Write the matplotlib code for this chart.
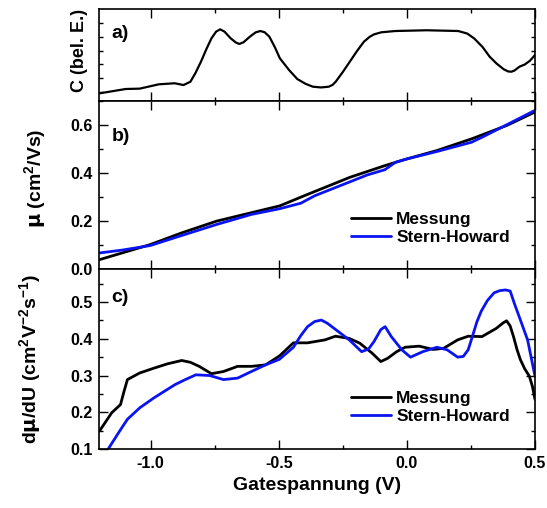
import numpy as np
import matplotlib
matplotlib.use("Agg")
import matplotlib.pyplot as plt
from matplotlib.ticker import MultipleLocator, FixedLocator

plt.rcParams['font.family'] = ['Liberation Sans', 'DejaVu Sans']
plt.rcParams['font.weight'] = 'bold'
plt.rcParams['axes.labelweight'] = 'bold'
plt.rcParams['mathtext.fontset'] = 'custom'
plt.rcParams['mathtext.rm'] = 'DejaVu Sans'
plt.rcParams['mathtext.bf'] = 'Liberation Sans:bold'
plt.rcParams['mathtext.default'] = 'bf'

# a) capacitance (arbitrary units)
u_c = [-1.2, -1.098, -1.043, -0.968, -0.906, -0.872, -0.845, -0.825, -0.804,
       -0.783, -0.763, -0.745, -0.729, -0.712, -0.688, -0.668, -0.654, -0.638,
       -0.613, -0.59, -0.572, -0.555, -0.537, -0.516, -0.496, -0.46, -0.428,
       -0.395, -0.367, -0.335, -0.305, -0.29, -0.278, -0.25, -0.223, -0.195,
       -0.168, -0.145, -0.128, -0.1, -0.045, 0.077, 0.2, 0.235, 0.262, 0.295,
       0.323, 0.35, 0.378, 0.395, 0.408, 0.42, 0.439, 0.46, 0.48, 0.5]
cap = [0.088, 0.135, 0.139, 0.186, 0.197, 0.178, 0.214, 0.310, 0.430,
       0.565, 0.683, 0.755, 0.780, 0.755, 0.683, 0.638, 0.622, 0.640,
       0.701, 0.748, 0.762, 0.748, 0.701, 0.590, 0.467, 0.340, 0.243,
       0.190, 0.160, 0.152, 0.160, 0.180, 0.214, 0.320, 0.430, 0.545,
       0.646, 0.700, 0.726, 0.748, 0.762, 0.770, 0.762, 0.735, 0.683, 0.590,
       0.484, 0.410, 0.348, 0.325, 0.322, 0.335, 0.376, 0.400, 0.440, 0.503]

# b) mobility
u_mu_m = [-1.2, -1.002, -0.879, -0.743, -0.496, -0.401, -0.223, -0.086, 0.0,
          0.117, 0.253, 0.39, 0.5]
mu_m = [0.039, 0.102, 0.151, 0.200, 0.264, 0.306, 0.383, 0.432, 0.460,
        0.495, 0.544, 0.600, 0.656]
u_mu_sh = [-1.2, -1.111, -1.002, -0.879, -0.743, -0.607, -0.496, -0.414,
           -0.36, -0.223, -0.155, -0.086, -0.045, 0.0, 0.117, 0.253, 0.294,
           0.39, 0.5]
mu_sh = [0.067, 0.079, 0.098, 0.140, 0.186, 0.228, 0.252, 0.275, 0.306,
         0.364, 0.393, 0.415, 0.446, 0.460, 0.491, 0.530, 0.551, 0.603, 0.663]

# c) derivative dmu/dU
u_d_m = [-1.2, -1.152, -1.118, -1.105, -1.091, -1.043, -0.988, -0.934, -0.879,
         -0.845, -0.811, -0.763, -0.716, -0.661, -0.607, -0.552, -0.498,
         -0.443, -0.388, -0.320, -0.279, -0.225, -0.184, -0.136, -0.102,
         -0.075, -0.04, -0.007, 0.048, 0.102, 0.143, 0.198, 0.239, 0.293,
         0.348, 0.375, 0.389, 0.403, 0.416, 0.43, 0.443, 0.46, 0.478, 0.49,
         0.5]
d_m = [0.149, 0.199, 0.221, 0.255, 0.289, 0.307, 0.320, 0.332, 0.341,
       0.336, 0.325, 0.305, 0.311, 0.325, 0.325, 0.329, 0.353,
       0.389, 0.389, 0.397, 0.407, 0.401, 0.388, 0.361, 0.338,
       0.347, 0.365, 0.377, 0.380, 0.371, 0.374, 0.397, 0.407, 0.406,
       0.428, 0.443, 0.449, 0.435, 0.406, 0.370, 0.343, 0.318, 0.298, 0.270,
       0.235]
u_d_sh = [-1.2, -1.166, -1.125, -1.091, -1.043, -0.988, -0.947, -0.906,
          -0.865, -0.824, -0.770, -0.716, -0.661, -0.607, -0.552, -0.498,
          -0.443, -0.415, -0.388, -0.36, -0.334, -0.31, -0.293, -0.225,
          -0.177, -0.15, -0.129, -0.102, -0.085, -0.061, -0.020, 0.014, 0.062,
          0.117, 0.157, 0.198, 0.22, 0.239, 0.255, 0.273, 0.29, 0.314, 0.34,
          0.362, 0.385, 0.403, 0.42, 0.443, 0.471, 0.5]
d_sh = [0.06, 0.1, 0.145, 0.181, 0.212, 0.239, 0.257, 0.275, 0.289, 0.302,
        0.300, 0.289, 0.293, 0.311, 0.329, 0.344, 0.377, 0.408, 0.433, 0.447,
        0.451, 0.442, 0.433, 0.397, 0.365, 0.372, 0.392, 0.425, 0.433, 0.406,
        0.370, 0.350, 0.365, 0.377, 0.370, 0.350, 0.352, 0.370, 0.405, 0.446,
        0.475, 0.504, 0.525, 0.531, 0.533, 0.530, 0.495, 0.451, 0.397, 0.298]

fig = plt.figure(figsize=(5.47, 5.08), dpi=100)
left, width = 0.1819, 0.7962
ax_a = fig.add_axes([left, 0.8002, width, 0.1821])
ax_b = fig.add_axes([left, 0.4705, width, 0.3297])
ax_c = fig.add_axes([left, 0.1161, width, 0.3544])

lw = 2.0
blue = '#0a14f0'
style = dict(solid_joinstyle='round', solid_capstyle='round')
ax_a.plot(u_c, cap, color='black', lw=1.6, **style)
ax_b.plot(u_mu_m, mu_m, color='black', lw=lw, label='Messung', **style)
ax_b.plot(u_mu_sh, mu_sh, color=blue, lw=lw, label='Stern-Howard', **style)
ax_c.plot(u_d_m, d_m, color='black', lw=lw, label='Messung', **style)
ax_c.plot(u_d_sh, d_sh, color=blue, lw=lw, label='Stern-Howard', **style)

for ax in (ax_a, ax_b, ax_c):
    ax.set_xlim(-1.2, 0.5)
    ax.xaxis.set_major_locator(MultipleLocator(0.5))
    ax.xaxis.set_minor_locator(MultipleLocator(0.25))
    ax.tick_params(which='both', direction='in', top=True, right=True,
                   width=1.0, labelsize=11.5, pad=5)
    ax.tick_params(which='major', length=6.5)
    ax.tick_params(which='minor', length=3.2)
    for s in ax.spines.values():
        s.set_linewidth(1.2)

ax_a.set_ylim(0, 1)
ax_a.yaxis.set_major_locator(FixedLocator([]))
ax_a.yaxis.set_minor_locator(FixedLocator([0.1, 0.25, 0.4, 0.55, 0.7, 0.85]))
ax_a.tick_params(labelbottom=False, labelleft=False)

ax_b.set_ylim(0, 0.7)
ax_b.yaxis.set_major_locator(MultipleLocator(0.2))
ax_b.yaxis.set_minor_locator(MultipleLocator(0.1))
ax_b.tick_params(labelbottom=False)
ax_b.yaxis.set_major_formatter(lambda v, p: f'{v:.1f}')

ax_c.set_ylim(0.1, 0.59)
ax_c.yaxis.set_major_locator(MultipleLocator(0.1))
ax_c.yaxis.set_minor_locator(MultipleLocator(0.05))
ax_c.xaxis.set_major_formatter(lambda v, p: f'{v:.1f}')
ax_c.yaxis.set_major_formatter(lambda v, p: f'{v:.1f}')

ax_a.set_ylabel('C (bel. E.)', fontsize=13, va='center')
ax_a.yaxis.set_label_coords(-0.0457, 0.557)
ax_b.set_ylabel(r'$\mathrm{\mu}$ (cm$^{2}$/Vs)', fontsize=14, va='center')
ax_b.yaxis.set_label_coords(-0.148, 0.543)
ax_c.set_ylabel(r'd$\mathrm{\mu}$/dU (cm$^{2}$V$^{-2}$s$^{-1}$)', fontsize=14,
                va='center')
ax_c.yaxis.set_label_coords(-0.1605, 0.5)
ax_c.set_xlabel('Gatespannung (V)', fontsize=14, labelpad=4)

for ax, lab, y in ((ax_a, 'a)', 0.74), (ax_b, 'b)', 0.79), (ax_c, 'c)', 0.84)):
    ax.text(0.028, y, lab, transform=ax.transAxes, fontsize=14,
            fontweight='bold', va='center')

for ax, y in ((ax_b, 0.34), (ax_c, 0.322)):
    ax.legend(loc='upper left', bbox_to_anchor=(0.5775, y), frameon=False,
              fontsize=12.5, borderpad=0, borderaxespad=0, handlelength=2.3,
              handletextpad=0.3, labelspacing=0.15)

fig.savefig('out.png', dpi=100)
